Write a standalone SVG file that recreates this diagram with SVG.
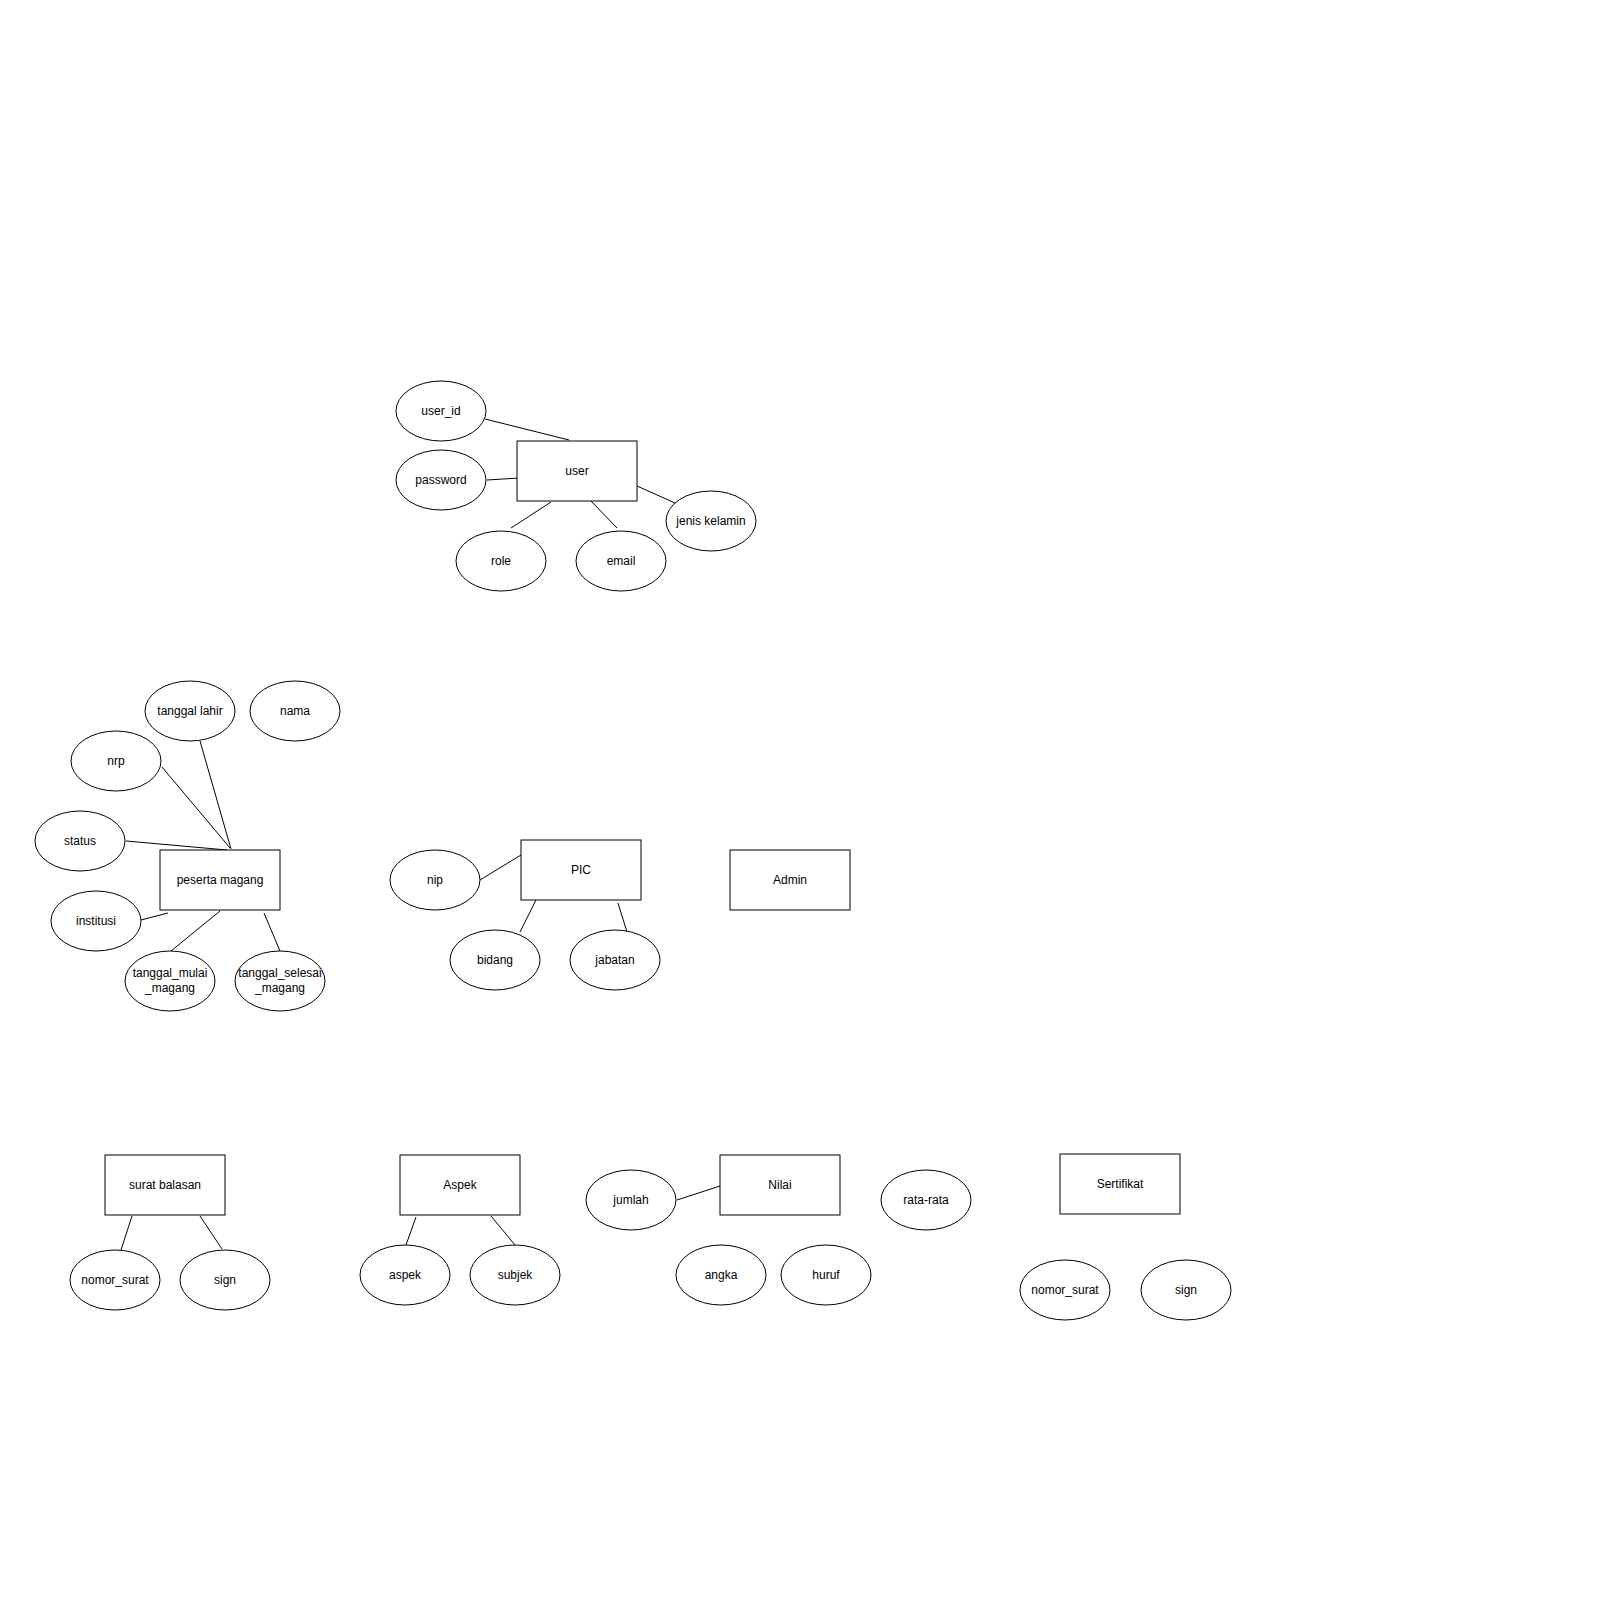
<svg xmlns="http://www.w3.org/2000/svg" width="1600" height="1600" viewBox="0 0 1600 1600">
<style>
.e{fill:#fff;stroke:#000;stroke-width:1}
.r{fill:#fff;stroke:#000;stroke-width:1}
.l{stroke:#000;stroke-width:1;fill:none}
text{font-family:"Liberation Sans",Arial,sans-serif;font-size:12px;fill:#000;text-anchor:middle}
</style>
<rect width="1600" height="1600" fill="#fff"/>
<g id="connectors">
<line class="l" x1="485" y1="419" x2="569" y2="440"/>
<line class="l" x1="487" y1="480" x2="519" y2="478"/>
<line class="l" x1="511" y1="528" x2="551" y2="502"/>
<line class="l" x1="617" y1="528" x2="591" y2="501"/>
<line class="l" x1="637" y1="486" x2="675" y2="503"/>
<line class="l" x1="200" y1="741" x2="231" y2="849"/>
<line class="l" x1="162" y1="767" x2="230" y2="848"/>
<line class="l" x1="126" y1="841" x2="227" y2="850"/>
<line class="l" x1="141" y1="920" x2="168" y2="913"/>
<line class="l" x1="171" y1="951" x2="220" y2="911"/>
<line class="l" x1="280" y1="951" x2="264" y2="913"/>
<line class="l" x1="480" y1="880" x2="521" y2="855"/>
<line class="l" x1="520" y1="932" x2="536" y2="900"/>
<line class="l" x1="627" y1="932" x2="618" y2="903"/>
<line class="l" x1="121" y1="1250" x2="132" y2="1216"/>
<line class="l" x1="222" y1="1249" x2="200" y2="1216"/>
<line class="l" x1="406" y1="1245" x2="416" y2="1217"/>
<line class="l" x1="515" y1="1245" x2="491" y2="1216"/>
<line class="l" x1="677" y1="1200" x2="720" y2="1186"/>
</g>
<g id="user"><rect class="r" x="517" y="441" width="120" height="60"/><text x="577" y="475">user</text></g>
<g id="user_id"><ellipse class="e" cx="441" cy="411" rx="45" ry="30"/><text x="441" y="415">user_id</text></g>
<g id="password"><ellipse class="e" cx="441" cy="480" rx="45" ry="30"/><text x="441" y="484">password</text></g>
<g id="role"><ellipse class="e" cx="501" cy="561" rx="45" ry="30"/><text x="501" y="565">role</text></g>
<g id="email"><ellipse class="e" cx="621" cy="561" rx="45" ry="30"/><text x="621" y="565">email</text></g>
<g id="jenis_kelamin"><ellipse class="e" cx="711" cy="521" rx="45" ry="30"/><text x="711" y="525">jenis kelamin</text></g>

<g id="peserta_magang"><rect class="r" x="160" y="850" width="120" height="60"/><text x="220" y="884">peserta magang</text></g>
<g id="tanggal_lahir"><ellipse class="e" cx="190" cy="711" rx="45" ry="30"/><text x="190" y="715">tanggal lahir</text></g>
<g id="nama"><ellipse class="e" cx="295" cy="711" rx="45" ry="30"/><text x="295" y="715">nama</text></g>
<g id="nrp"><ellipse class="e" cx="116" cy="761" rx="45" ry="30"/><text x="116" y="765">nrp</text></g>
<g id="status"><ellipse class="e" cx="80" cy="841" rx="45" ry="30"/><text x="80" y="845">status</text></g>
<g id="institusi"><ellipse class="e" cx="96" cy="921" rx="45" ry="30"/><text x="96" y="925">institusi</text></g>
<g id="tanggal_mulai_magang"><ellipse class="e" cx="170" cy="981" rx="45" ry="30"/><text x="170" y="977">tanggal_mulai</text><text x="170" y="992">_magang</text></g>
<g id="tanggal_selesai_magang"><ellipse class="e" cx="280" cy="981" rx="45" ry="30"/><text x="280" y="977">tanggal_selesai</text><text x="280" y="992">_magang</text></g>

<g id="pic"><rect class="r" x="521" y="840" width="120" height="60"/><text x="581" y="874">PIC</text></g>
<g id="nip"><ellipse class="e" cx="435" cy="880" rx="45" ry="30"/><text x="435" y="884">nip</text></g>
<g id="bidang"><ellipse class="e" cx="495" cy="960" rx="45" ry="30"/><text x="495" y="964">bidang</text></g>
<g id="jabatan"><ellipse class="e" cx="615" cy="960" rx="45" ry="30"/><text x="615" y="964">jabatan</text></g>
<g id="admin"><rect class="r" x="730" y="850" width="120" height="60"/><text x="790" y="884">Admin</text></g>

<g id="surat_balasan"><rect class="r" x="105" y="1155" width="120" height="60"/><text x="165" y="1189">surat balasan</text></g>
<g id="nomor_surat_1"><ellipse class="e" cx="115" cy="1280" rx="45" ry="30"/><text x="115" y="1284">nomor_surat</text></g>
<g id="sign_1"><ellipse class="e" cx="225" cy="1280" rx="45" ry="30"/><text x="225" y="1284">sign</text></g>

<g id="aspek_entity"><rect class="r" x="400" y="1155" width="120" height="60"/><text x="460" y="1189">Aspek</text></g>
<g id="aspek"><ellipse class="e" cx="405" cy="1275" rx="45" ry="30"/><text x="405" y="1279">aspek</text></g>
<g id="subjek"><ellipse class="e" cx="515" cy="1275" rx="45" ry="30"/><text x="515" y="1279">subjek</text></g>

<g id="nilai"><rect class="r" x="720" y="1155" width="120" height="60"/><text x="780" y="1189">Nilai</text></g>
<g id="jumlah"><ellipse class="e" cx="631" cy="1200" rx="45" ry="30"/><text x="631" y="1204">jumlah</text></g>
<g id="rata_rata"><ellipse class="e" cx="926" cy="1200" rx="45" ry="30"/><text x="926" y="1204">rata-rata</text></g>
<g id="angka"><ellipse class="e" cx="721" cy="1275" rx="45" ry="30"/><text x="721" y="1279">angka</text></g>
<g id="huruf"><ellipse class="e" cx="826" cy="1275" rx="45" ry="30"/><text x="826" y="1279">huruf</text></g>

<g id="sertifikat"><rect class="r" x="1060" y="1154" width="120" height="60"/><text x="1120" y="1188">Sertifikat</text></g>
<g id="nomor_surat_2"><ellipse class="e" cx="1065" cy="1290" rx="45" ry="30"/><text x="1065" y="1294">nomor_surat</text></g>
<g id="sign_2"><ellipse class="e" cx="1186" cy="1290" rx="45" ry="30"/><text x="1186" y="1294">sign</text></g>
</svg>
